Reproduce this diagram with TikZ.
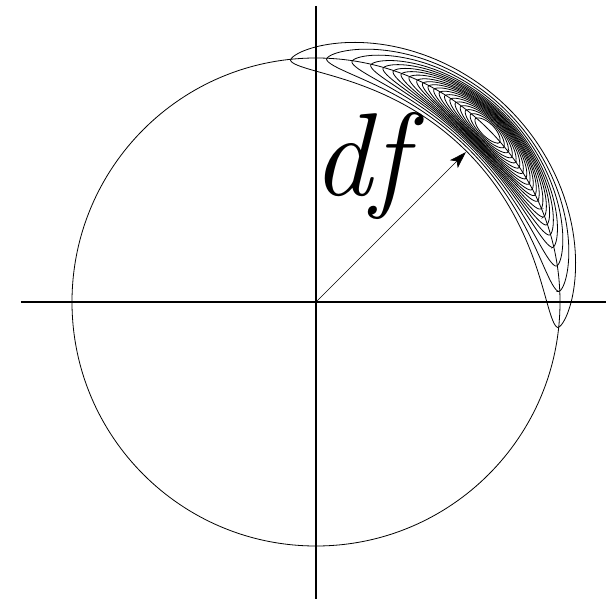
\documentclass[tikz,border=0pt]{standalone}
\usepackage{fontspec}
\usetikzlibrary{arrows.meta}
\tikzset{
  axisline/.style={line width=1.3pt},
  circleline/.style={line width=0.8pt},
  contourline/.style={line width=0.8pt},
  radiusarrow/.style={line width=0.7pt,-{Stealth[length=17pt,width=11pt,inset=4pt]}}
}
\begin{document}
\begin{tikzpicture}[x=1pt,y=1pt]
\useasboundingbox (-316,-297) rectangle (294,302);
% axes
\coordinate (xl) at (-295,0);
\coordinate (xr) at (290,0);
\coordinate (yt) at (0,296);
\coordinate (yb) at (0,-297);
\coordinate (o) at (0,0);
\draw[axisline] (xl) -- (xr);
\draw[axisline] (yt) -- (yb);
% circle
\draw[circleline] (o) circle (244);
% contours
\foreach \T in {51,42.5,36.5,32,29,26.5,24.5,22.5,20.5,19,17.5,16,14.5,13,11.5,10,8.5,7,5.5,4} {
  \pgfmathsetmacro{\H}{30*(\T/51)^0.6}
  \draw[contourline]
    plot[domain=0:180,samples=90,variable=\u] ({45+\T*cos(\u)}:{243+\H*(sin(\u))^1.2})
    -- plot[domain=180:360,samples=90,variable=\u] ({45+\T*cos(\u)}:{243-\H*(abs(sin(\u)))^1.2})
    -- cycle;
}
% arrow
\coordinate (tip) at (45:212);
\draw[radiusarrow] (o) -- (tip);
\node[anchor=base west,inner sep=0pt,font=\fontsize{118}{118}\selectfont\itshape] (lbl) at (-4,106) {df};
\end{tikzpicture}
\end{document}
